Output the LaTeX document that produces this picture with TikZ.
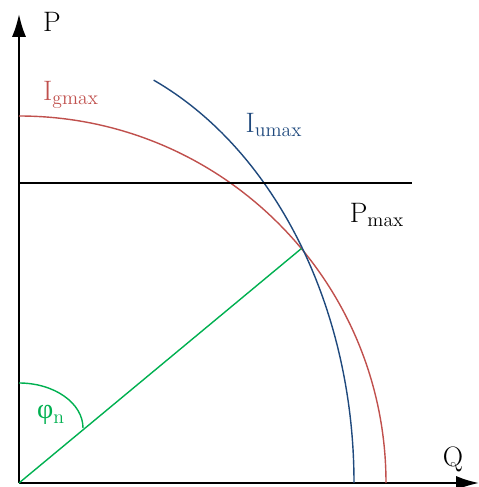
\documentclass[tikz,border=0pt]{standalone}
\usepackage{fontspec}
\newfontfamily\greekfont{Liberation Serif}
\usepackage{xcolor}
\definecolor{gridred}{RGB}{192,80,77}
\definecolor{gridblue}{RGB}{31,73,125}
\definecolor{anglegreen}{RGB}{0,176,80}
\usepackage{tikz}
\usetikzlibrary{arrows.meta, calc}
\tikzset{
  axis/.style={line width=1.2pt, -{Latex[length=13pt, width=8pt]}},
  limitline/.style={line width=0.8pt},
  lbl/.style={font=\fontsize{16}{18}\selectfont, inner sep=0pt},
}
\begin{document}
\begin{tikzpicture}[x=0.02cm, y=0.02cm]
  \useasboundingbox (-19,-4) rectangle (460,483);

  \coordinate (o)    at (0,0);
  \coordinate (ptop) at (0,469);
  \coordinate (qend) at (460,0);
  \coordinate (pl)   at (0,300);
  \coordinate (pr)   at (393,300);
  \coordinate (gs)   at (0,367);
  \coordinate (us)   at ({335*cos(66.3)},{440*sin(66.3)});
  \coordinate (op)   at (39.7:367);
  \coordinate (as)   at (0,100);

  \draw [axis] (o) -- (ptop);
  \draw [axis] (o) -- (qend);

  \draw [limitline, gridred]    (gs) arc [start angle=90, end angle=0, radius=367];
  \draw [limitline, gridblue]   (us) arc [start angle=66.3, end angle=0, x radius=335, y radius=440];
  \draw [limitline]             (pl) -- (pr);
  \draw [limitline, anglegreen] (o) -- (op);
  \draw [limitline, anglegreen] (as) arc [start angle=90, end angle=0, x radius=64, y radius=45];

  \node (plbl)  [lbl]                   at (33,461)  {P};
  \node (qlbl)  [lbl]                   at (434,24)  {Q};
  \node (iglbl) [lbl, text=gridred]     at (52,388)  {I\textsubscript{gmax}};
  \node (iulbl) [lbl, text=gridblue]    at (255,358) {I\textsubscript{umax}};
  \node (pmlbl) [lbl]                   at (358,268) {P\textsubscript{max}};
  \node (phlbl) [lbl, text=anglegreen]  at (32,68)   {{\greekfont φ}\textsubscript{n}};
\end{tikzpicture}
\end{document}
